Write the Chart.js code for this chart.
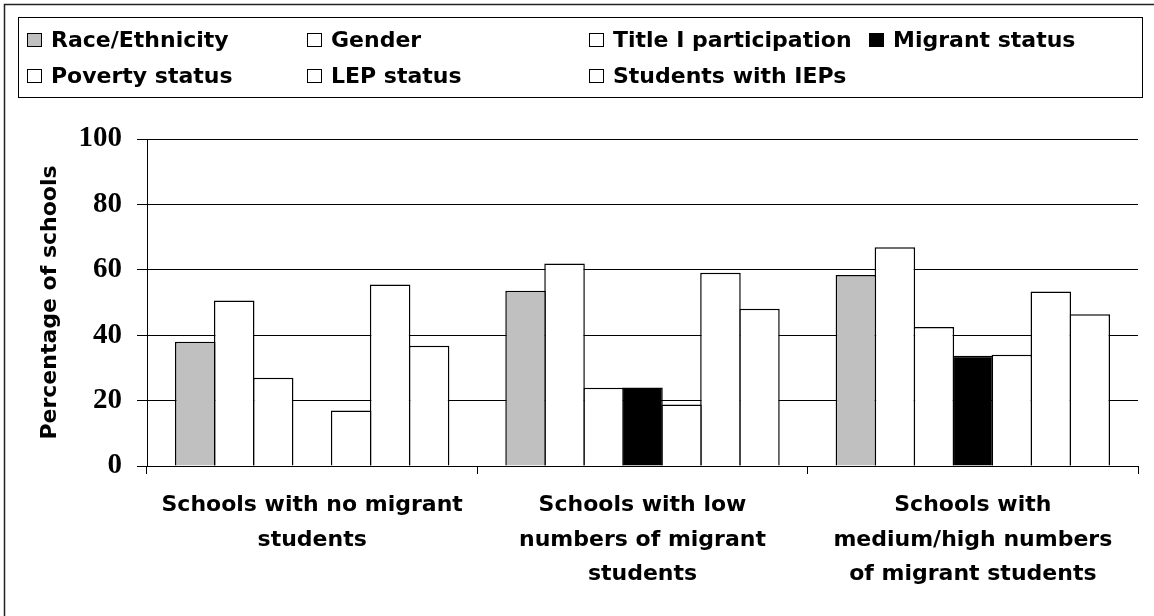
<!DOCTYPE html>
<html>
<head>
<meta charset="utf-8">
<title>Percentage of schools by subgroup</title>
<script src="https://cdn.jsdelivr.net/npm/chart.js@4.4.1/dist/chart.umd.min.js"></script>
<style>
    html, body { margin: 0; padding: 0; background: #fff; }
    canvas { display: block; }
</style>
</head>
<body>
<canvas id="schoolsChart" width="1154" height="616"></canvas>
<script>
// Chart data
const categories = [
    ['Schools with no migrant', 'students'],
    ['Schools with low', 'numbers of migrant', 'students'],
    ['Schools with', 'medium/high numbers', 'of migrant students']
];
const raceEthnicity = [38.0, 53.6, 58.4];
const gender = [50.6, 61.9, 66.9];
const titleI = [27.0, 23.9, 42.5];
const migrantStatus = [0, 24.0, 33.7];
const povertyStatus = [17.0, 18.8, 34.0];
const lepStatus = [55.5, 59.1, 53.4];
const studentsWithIEPs = [36.8, 48.1, 46.4];
const yTicks = [0, 20, 40, 60, 80, 100];

const sansFont = "'DejaVu Sans', sans-serif";
const serifFont = "'Liberation Serif', 'Times New Roman', serif";

function makeDataset(label, data, color) {
    return {
        label: label,
        data: data,
        backgroundColor: color,
        borderColor: '#000',
        borderWidth: 1.5,
        categoryPercentage: 0.826,
        // slight overlap so neighbouring bars share one outline
        barPercentage: 1.04
    };
}

// Frame around the whole figure plus the boxed legend (drawn in a fixed grid)
const frameAndLegend = {
    id: 'frameAndLegend',
    afterDraw(chart) {
        const ctx = chart.ctx;
        ctx.save();

        ctx.strokeStyle = '#222';
        ctx.lineWidth = 1.5;
        ctx.strokeRect(4.5, 4.5, 1170, 630);

        ctx.strokeStyle = '#000';
        ctx.lineWidth = 1;
        ctx.strokeRect(18.5, 17.5, 1124, 80);

        const colX = [27, 307, 589, 869];
        const rowY = [47, 83];
        ctx.font = 'bold 22px ' + sansFont;
        ctx.textBaseline = 'alphabetic';
        ctx.textAlign = 'left';
        chart.data.datasets.forEach((ds, i) => {
            const x = colX[i % 4];
            const y = rowY[Math.floor(i / 4)];
            ctx.fillStyle = ds.backgroundColor;
            ctx.fillRect(x, y - 14, 15, 14);
            ctx.strokeStyle = '#000';
            ctx.strokeRect(x + 0.5, y - 13.5, 14, 13);
            ctx.fillStyle = '#000';
            ctx.fillText(ds.label, x + 24, y);
        });

        ctx.restore();
    }
};

new Chart(document.getElementById('schoolsChart').getContext('2d'), {
    type: 'bar',
    data: {
        labels: categories,
        datasets: [
            makeDataset('Race/Ethnicity', raceEthnicity, '#c0c0c0'),
            makeDataset('Gender', gender, '#ffffff'),
            makeDataset('Title I participation', titleI, '#ffffff'),
            makeDataset('Migrant status', migrantStatus, '#000000'),
            makeDataset('Poverty status', povertyStatus, '#ffffff'),
            makeDataset('LEP status', lepStatus, '#ffffff'),
            makeDataset('Students with IEPs', studentsWithIEPs, '#ffffff')
        ]
    },
    options: {
        responsive: false,
        devicePixelRatio: 1,
        animation: false,
        layout: {
            padding: { top: 139, left: 30, right: 16, bottom: 10 }
        },
        plugins: {
            legend: { display: false },
            tooltip: { enabled: false }
        },
        scales: {
            x: {
                grid: {
                    offset: true,
                    drawOnChartArea: false,
                    drawTicks: true,
                    tickLength: 8,
                    color: '#000'
                },
                border: { display: true, color: '#000', width: 1 },
                ticks: {
                    color: '#000',
                    padding: 14,
                    maxRotation: 0,
                    autoSkip: false,
                    font: { family: sansFont, size: 22, weight: 'bold', lineHeight: 1.57 }
                },
                afterFit(scale) {
                    scale.height = 140;
                    scale.paddingLeft = 0;
                    scale.paddingRight = 0;
                }
            },
            y: {
                min: 0,
                max: 100,
                afterBuildTicks(scale) {
                    scale.ticks = yTicks.map(v => ({ value: v }));
                },
                grid: {
                    color: '#000',
                    lineWidth: 1,
                    drawTicks: true,
                    tickLength: 10
                },
                border: { display: true, color: '#000', width: 1 },
                ticks: {
                    color: '#000',
                    padding: 15,
                    font: { family: serifFont, size: 29, weight: 'bold' }
                },
                title: {
                    display: true,
                    text: 'Percentage of schools',
                    color: '#000',
                    padding: { top: 7, bottom: 0 },
                    font: { family: sansFont, size: 22, weight: 'bold' }
                },
                afterFit(scale) {
                    scale.width = 117;
                    scale.paddingTop = 0;
                    scale.paddingBottom = 0;
                }
            }
        }
    },
    plugins: [frameAndLegend]
});
</script>
</body>
</html>
